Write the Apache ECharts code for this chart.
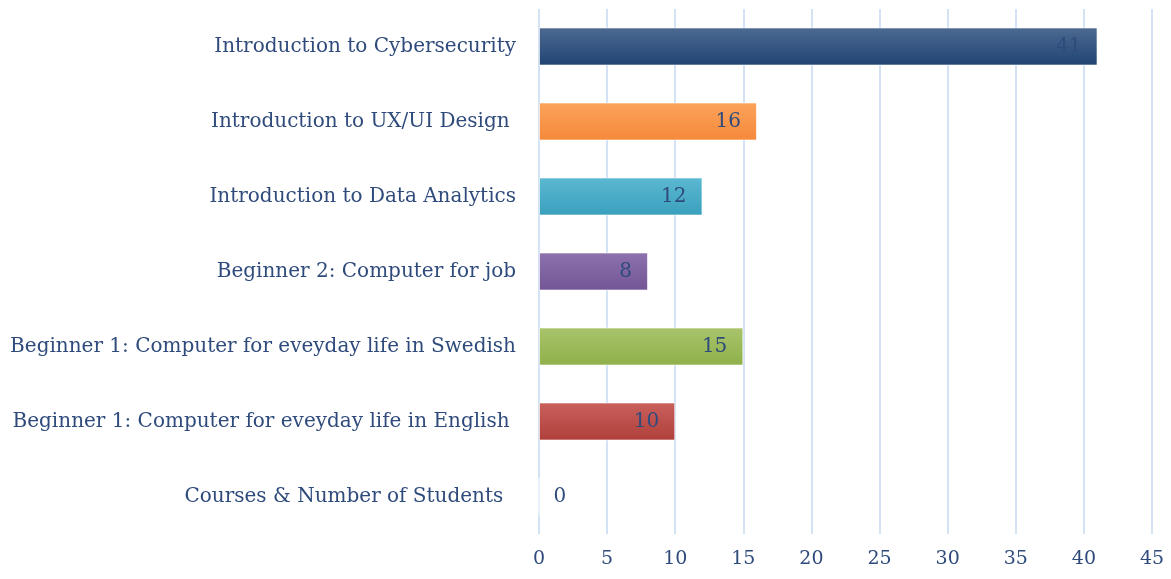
<!DOCTYPE html>
<html>
<head>
<meta charset="utf-8">
<script src="https://cdn.jsdelivr.net/npm/echarts@6/dist/echarts.min.js"></script>
<style>
  html, body { margin: 0; padding: 0; background: #fff; }
  #chart { width: 1171px; height: 579px; }
</style>
</head>
<body>
<div id="chart"></div>
<script>
// categories listed bottom -> top (category axis on y starts at the bottom)
const courses = [
  "Courses & Number of Students  ",
  "Beginner 1: Computer for eveyday life in English ",
  "Beginner 1: Computer for eveyday life in Swedish",
  "Beginner 2: Computer for job",
  "Introduction to Data Analytics",
  "Introduction to UX/UI Design ",
  "Introduction to Cybersecurity",
];
const students = [0, 10, 15, 8, 12, 16, 41];
const barColors = [
  ["#c0504d", "#c0504d"],
  ["#c9605c", "#b03f3b"],
  ["#a9c46c", "#8fb04a"],
  ["#8d72ae", "#735595"],
  ["#5cb8d2", "#3aa0bd"],
  ["#fba35b", "#f5893a"],
  ["#4d6a91", "#1f4473"],
];

const textColor = "#2f4b7c";
const fontFamily = "'DejaVu Serif', serif";

const chart = echarts.init(document.getElementById("chart"));

const option = {
  animation: false,
  grid: {
    left: 539,
    right: 19,
    top: 9,
    bottom: 45,
  },
  xAxis: {
    type: "value",
    min: 0,
    max: 45,
    interval: 5,
    axisLine: { show: false },
    axisTick: { show: false },
    splitLine: { lineStyle: { color: "#d3e2f5", width: 2 } },
    axisLabel: {
      color: textColor,
      fontFamily: fontFamily,
      fontSize: 19,
      margin: 16,
    },
  },
  yAxis: {
    type: "category",
    data: courses,
    axisLine: { show: false },
    axisTick: { show: false },
    axisLabel: {
      color: textColor,
      fontFamily: fontFamily,
      fontSize: 20,
      margin: 23,
    },
  },
  series: [
    {
      type: "bar",
      barWidth: 38,
      data: students.map((v, i) => ({
        value: v,
        itemStyle: {
          color: new echarts.graphic.LinearGradient(0, 0, 0, 1, [
            { offset: 0, color: barColors[i][0] },
            { offset: 1, color: barColors[i][1] },
          ]),
          borderColor: "rgba(255,255,255,0.6)",
          borderWidth: 1,
        },
        label: v === 0 ? { position: "right", distance: 14 } : undefined,
      })),
      label: {
        show: true,
        position: "insideRight",
        distance: 16,
        color: textColor,
        fontFamily: fontFamily,
        fontSize: 20,
      },
    },
  ],
};

chart.setOption(option);
</script>
</body>
</html>
